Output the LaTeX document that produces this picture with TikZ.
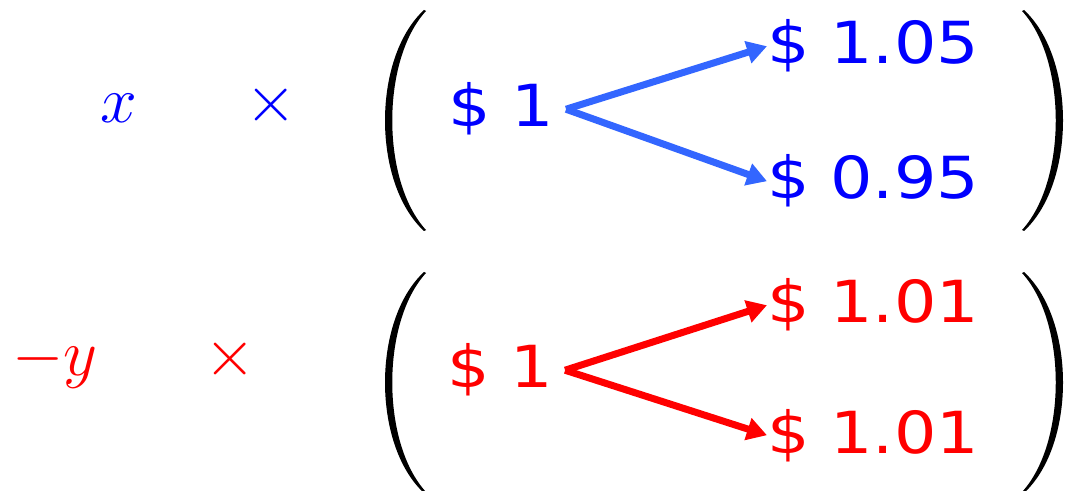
\RequirePackage{fix-cm}
\documentclass[tikz,border=0pt]{standalone}
\usepackage{fontspec}
\newfontfamily\dvs[FakeStretch=1.15]{DejaVu Sans}
\usetikzlibrary{arrows.meta}
\definecolor{tblue}{RGB}{0,0,255}
\definecolor{ablue}{RGB}{51,102,255}
\definecolor{tred}{RGB}{255,0,0}
\tikzset{
  amt/.style={inner sep=0pt, outer sep=0pt, anchor=base west, font=\dvs\fontsize{29}{35}\selectfont},
  src/.style={amt, outer xsep=6pt},
  sym/.style={inner sep=0pt, outer sep=0pt, font=\fontsize{33}{40}\selectfont},
  arr/.style={line width=3.5pt, -{Triangle[length=10pt,width=11pt]}},
  lparen/.pic={\fill (424,10) .. controls (372,58) and (372,183) .. (424,231)
     -- (426,230) .. controls (381,181) and (381,60) .. (426,11) -- cycle;},
}
\begin{document}
\begin{tikzpicture}[x=0.5pt,y=-0.5pt]
\useasboundingbox (0,0) rectangle (1065,491);
% parentheses
\pic at (0,0) {lparen};
\pic[xscale=-1] at (1448,0) {lparen};
\pic at (0,262) {lparen};
\pic[xscale=-1] at (1448,262) {lparen};
% top row
\node[sym, anchor=base, text=tblue] (x) at (119,123) {$x$};
\node[sym, anchor=base, text=tblue] (t1) at (271,122) {$\times$};
\node[src, text=tblue] (s1) at (436,127) {\$ 1};
\node[amt, text=tblue] (u1) at (767,64) {\$ 1.05};
\node[amt, text=tblue] (d1) at (767,199) {\$ 0.95};
\draw[arr, ablue] (s1.east) -- (u1.west);
\draw[arr, ablue] (s1.east) -- (d1.west);
% bottom row
\node[sym, anchor=base west, text=tred] (y) at (12,376) {$-y$};
\node[sym, anchor=base, text=tred] (t2) at (230,376) {$\times$};
\node[src, text=tred] (s2) at (435,388) {\$ 1};
\node[amt, text=tred] (u2) at (767,323) {\$ 1.01};
\node[amt, text=tred] (d2) at (767,453) {\$ 1.01};
\draw[arr, tred] (s2.east) -- (u2.west);
\draw[arr, tred] (s2.east) -- (d2.west);
\end{tikzpicture}
\end{document}
